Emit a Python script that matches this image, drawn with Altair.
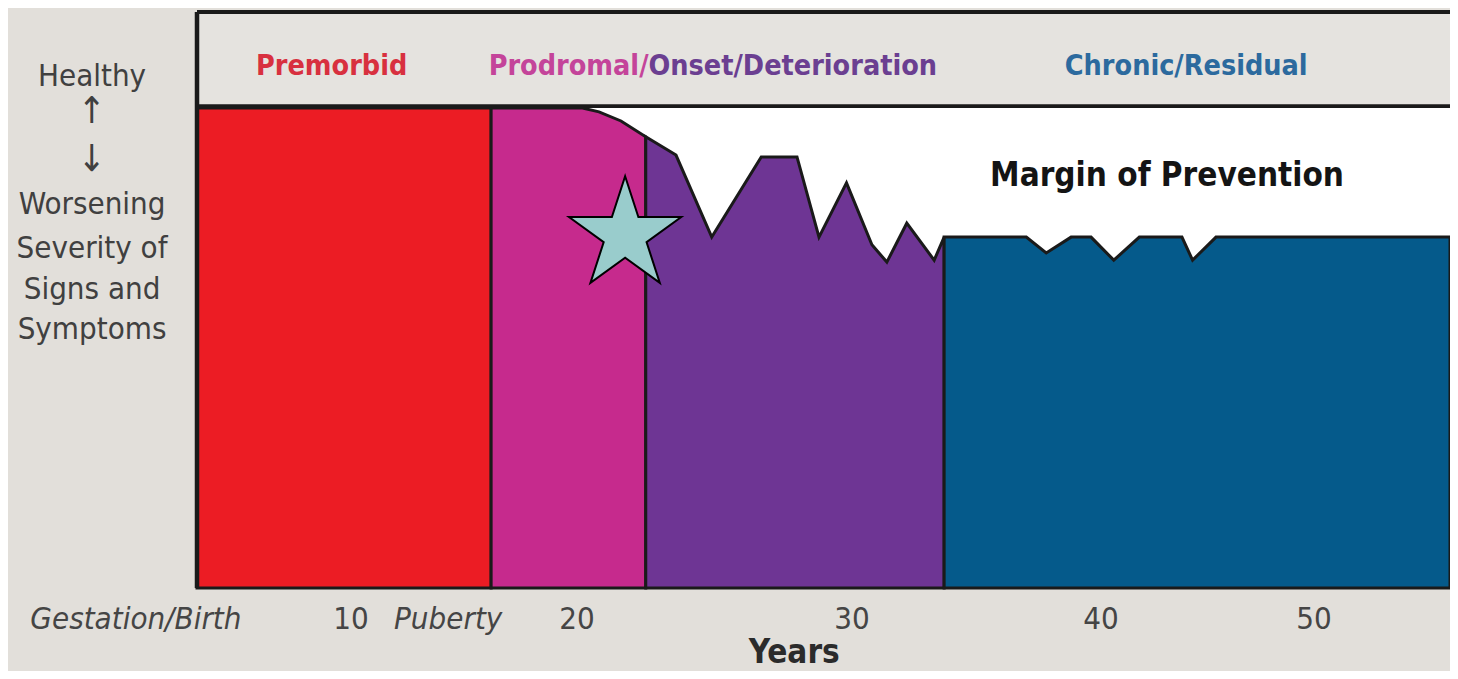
import altair as alt
import pandas as pd

# ---------------- data ----------------
# horizontal axis: years (schematic, uneven spacing) ; vertical: health level (100 = healthy, 0 = worst)
x_start, x_end = 2.84, 56.4
scale_years = [x_start, 10, 20, 30, 40, 50, x_end]
scale_pixels = [0, 154, 380, 655, 904, 1117, 1253]

phases = ["Premorbid", "Prodromal", "Onset", "Chronic"]
phase_colors = ["#ec1c24", "#c62a8d", "#6e3594", "#055a8b"]

premorbid_x = [x_start, 16.2]
premorbid_y = [100, 100]
prodromal_x = [16.2, 20.2, 20.8, 21.6, 22.5]
prodromal_y = [100, 100, 99.2, 97.3, 94.0]
onset_x = [22.5, 23.6, 24.9, 26.7, 28.0, 28.8, 29.8, 30.8, 31.4, 32.2, 33.3, 33.7]
onset_y = [94.0, 90.2, 73.1, 89.8, 89.8, 73.1, 84.4, 71.5, 67.9, 76.0, 68.3, 73.1]
chronic_x = [33.7, 37.0, 37.8, 38.8, 39.6, 40.6, 41.8, 43.8, 44.3, 45.4, x_end]
chronic_y = [73.1, 73.1, 69.8, 73.1, 73.1, 68.3, 73.1, 73.1, 68.3, 73.1, 73.1]

header_text = ["Premorbid", "Prodromal/", "Onset/Deterioration", "Chronic/Residual"]
header_x = [9.1, 22.6, 22.6, 44.0]
header_align = ["center", "right", "left", "center"]
header_color = ["#d8303f", "#c4449a", "#6b3f91", "#2c6a9e"]
header_level = 108.8
header_band = [100, 120]
frame_lines = [100.4, 120]

tick_years = [0, 10, 14.3, 20, 30, 40, 50]
tick_labels = ["Gestation/Birth", "10", "Puberty", "20", "30", "40", "50"]
tick_italic = [True, False, True, False, False, False, False]
tick_level = -6.7

x_title = "Years"
x_title_year = 27.9
x_title_level = -13.5

side_year = -2.04
side_word_levels = [106.5, 79.8, 70.6, 62.1, 53.7]
side_words = ["Healthy", "Worsening", "Severity of", "Signs and", "Symptoms"]
side_arrow_levels = [99.2, 89.2]
side_arrows = ["↑", "↓"]

margin_text = "Margin of Prevention"
margin_year = 43.1
margin_level = 85.8

star_year = [21.75]
star_level = [73.5]

FONT = "DejaVu Sans Condensed, DejaVu Sans, sans-serif"
BG = "#e2dfda"
HEADER_BG = "#e5e3df"
INK = "#1a1a1a"

# ---------------- build tables ----------------
area_df = pd.concat([
    pd.DataFrame({"year": premorbid_x, "level": premorbid_y, "phase": "Premorbid"}),
    pd.DataFrame({"year": prodromal_x, "level": prodromal_y, "phase": "Prodromal"}),
    pd.DataFrame({"year": onset_x, "level": onset_y, "phase": "Onset"}),
    pd.DataFrame({"year": chronic_x, "level": chronic_y, "phase": "Chronic"}),
], ignore_index=True)

x_scale = alt.Scale(domain=scale_years, range=scale_pixels, nice=False, zero=False)
y_scale = alt.Scale(domain=[0, 120], nice=False, zero=False)

header_rect = alt.Chart(pd.DataFrame({
    "x": [x_start], "x2": [x_end], "y": [header_band[0]], "y2": [header_band[1]]
})).mark_rect(color=HEADER_BG).encode(
    x=alt.X("x:Q", axis=None), x2="x2:Q",
    y=alt.Y("y:Q", axis=None), y2="y2:Q",
)

areas = alt.Chart(area_df).mark_area(stroke=INK, strokeWidth=3, opacity=1).encode(
    x=alt.X("year:Q", scale=x_scale, axis=None),
    y=alt.Y("level:Q", scale=y_scale, stack=None, axis=None),
    color=alt.Color("phase:N", scale=alt.Scale(domain=phases, range=phase_colors), legend=None),
)

h_rules = alt.Chart(pd.DataFrame({"y": frame_lines})).mark_rule(color=INK, strokeWidth=3.8).encode(
    y=alt.Y("y:Q", axis=None)
)
left_border = alt.Chart(pd.DataFrame({"x": [x_start]})).mark_rule(color=INK, strokeWidth=4.5).encode(
    x=alt.X("x:Q", axis=None)
)

STAR = ("M0,-1L0.2245,-0.309L0.9511,-0.309L0.3633,0.118L0.5878,0.809L0,0.382"
        "L-0.5878,0.809L-0.3633,0.118L-0.9511,-0.309L-0.2245,-0.309Z")
star = alt.Chart(pd.DataFrame({"year": star_year, "level": star_level})).mark_point(
    shape=STAR, size=13924, filled=True, fill="#99cccc", stroke="#000000",
    strokeWidth=2, opacity=1, fillOpacity=1,
).encode(x=alt.X("year:Q", axis=None), y=alt.Y("level:Q", axis=None))


def text_layer(xs, ys, texts, align, size, color, weight="normal", style="normal"):
    df = pd.DataFrame({"x": xs, "y": ys, "text": texts})
    return alt.Chart(df).mark_text(
        align=align, baseline="middle", font=FONT, fontSize=size,
        fontWeight=weight, fontStyle=style, color=color,
    ).encode(
        x=alt.X("x:Q", axis=None),
        y=alt.Y("y:Q", axis=None),
        text="text:N",
    )


header_layers = [
    text_layer([hx], [header_level], [ht], ha, 28.5, hc, "bold")
    for hx, ht, ha, hc in zip(header_x, header_text, header_align, header_color)
]

norm_idx = [i for i, it in enumerate(tick_italic) if not it]
ital_idx = [i for i, it in enumerate(tick_italic) if it]
tick_norm = text_layer([tick_years[i] for i in norm_idx], tick_level,
                       [tick_labels[i] for i in norm_idx], "center", 31, "#454545")
tick_ital = text_layer([tick_years[i] for i in ital_idx], tick_level,
                       [tick_labels[i] for i in ital_idx], "center", 31, "#454545", style="italic")

side_word_layer = text_layer(side_year, side_word_levels, side_words, "center", 31, "#404040")
side_arrow_layer = text_layer(side_year, side_arrow_levels, side_arrows, "center", 37, "#404040")

x_title_layer = text_layer([x_title_year], [x_title_level], [x_title], "center", 33, "#2b2b2b", "bold")
margin_layer = text_layer([margin_year], [margin_level], [margin_text], "center", 33, "#141414", "bold")

chart = alt.layer(
    header_rect, areas, h_rules, left_border, star,
    *header_layers, tick_norm, tick_ital, side_word_layer, side_arrow_layer,
    x_title_layer, margin_layer,
).properties(
    width=1253, height=576,
    padding={"left": 189, "top": 4, "right": 0, "bottom": 83},
    autosize=alt.AutoSizeParams(type="none"),
    background=BG,
).configure_view(stroke=None, fill="white")

chart.save("out.html", embed_options={"renderer": "svg", "actions": False})
